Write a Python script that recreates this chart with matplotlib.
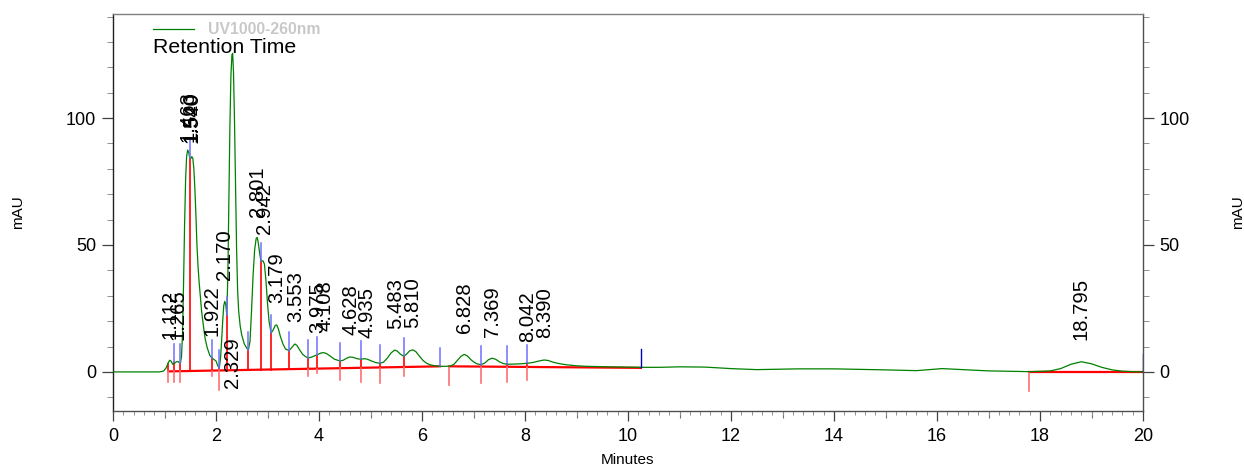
import numpy as np
import matplotlib
matplotlib.use("Agg")
import matplotlib.pyplot as plt
from matplotlib.ticker import MultipleLocator

plt.rcParams['font.family'] = ['Liberation Sans', 'DejaVu Sans']

# ---------- data ----------
# detector trace (UV 260 nm), minutes / mAU
t_trace = [0.00, 0.50, 0.90, 0.98, 1.03, 1.07, 1.10, 1.13, 1.16, 1.19, 1.23, 1.26, 1.29, 1.31,
           1.33, 1.35, 1.37, 1.39, 1.41, 1.43, 1.45, 1.47, 1.49, 1.51, 1.53, 1.55, 1.57, 1.59,
           1.61, 1.63, 1.65, 1.67, 1.69, 1.72, 1.75, 1.79, 1.83, 1.88, 1.92, 1.96, 2.00, 2.04,
           2.065, 2.09, 2.11, 2.13, 2.15, 2.17, 2.19, 2.21, 2.23, 2.25, 2.27, 2.29, 2.31, 2.324,
           2.34, 2.36, 2.38, 2.40, 2.42, 2.44, 2.47, 2.50, 2.55, 2.60, 2.63, 2.66, 2.69, 2.72,
           2.75, 2.78, 2.80, 2.82, 2.85, 2.874, 2.91, 2.94, 2.97, 3.00, 3.03, 3.07, 3.11, 3.15,
           3.18, 3.21, 3.25, 3.30, 3.35, 3.42, 3.47, 3.53, 3.57, 3.62, 3.68, 3.74, 3.79, 3.85,
           3.92, 3.97, 4.03, 4.08, 4.14, 4.22, 4.30, 4.41, 4.47, 4.53, 4.60, 4.67, 4.74, 4.81,
           4.88, 4.94, 5.02, 5.10, 5.18, 5.25, 5.33, 5.40, 5.47, 5.52, 5.58, 5.65, 5.70, 5.76,
           5.82, 5.88, 5.95, 6.02, 6.09, 6.16, 6.25, 6.35, 6.45, 6.55, 6.62, 6.69, 6.76, 6.82,
           6.88, 6.95, 7.02, 7.08, 7.15, 7.22, 7.29, 7.36, 7.43, 7.50, 7.58, 7.66, 7.80, 7.92,
           8.04, 8.15, 8.25, 8.37, 8.45, 8.55, 8.68, 8.81, 9.00, 9.20, 9.60, 10.00, 10.25, 10.60,
           11.00, 11.50, 12.00, 12.50, 13.00, 13.30, 14.00, 14.50, 15.00, 15.60, 15.90, 16.10,
           16.40, 17.00, 17.50, 17.80, 18.20, 18.40, 18.60, 18.80, 19.00, 19.20, 19.40, 19.60,
           19.80, 20.00]
v_trace = [0.0, 0.0, 0.0, 0.3, 1.5, 3.5, 4.6, 4.2, 3.0, 3.3, 4.0, 4.1, 3.6, 3.6,
           6.0, 15.0, 35.0, 58.0, 76.0, 85.0, 87.4, 86.5, 84.3, 84.0, 84.8, 84.2, 80.0, 72.0,
           62.0, 50.0, 42.0, 36.0, 31.0, 24.0, 19.0, 13.0, 9.5, 6.5, 5.5, 4.9, 4.3, 2.2,
           1.6, 6.0, 12.6, 20.0, 26.0, 27.8, 26.5, 22.4, 38.0, 68.0, 97.0, 117.0, 125.0, 125.5,
           118.0, 98.0, 72.0, 48.0, 32.0, 24.0, 18.0, 14.5, 11.0, 9.3, 8.7, 12.0, 24.0, 38.0,
           48.0, 52.6, 53.0, 51.0, 46.5, 43.5, 43.8, 42.5, 36.0, 27.0, 20.0, 15.3, 16.5, 18.3,
           18.5, 17.0, 14.0, 11.0, 9.0, 8.4, 9.6, 11.0, 10.5, 8.8, 7.0, 6.0, 5.5, 5.8,
           6.4, 6.8, 7.4, 7.6, 7.3, 6.2, 5.0, 4.3, 4.6, 5.3, 5.9, 5.7, 5.2, 5.0,
           5.2, 5.0, 4.3, 3.7, 3.4, 3.8, 5.5, 7.5, 8.6, 8.2, 7.0, 6.1, 7.0, 8.3,
           8.7, 8.0, 6.2, 4.5, 3.4, 2.8, 2.4, 2.2, 2.2, 2.3, 3.0, 4.6, 6.2, 6.9,
           6.3, 4.8, 3.7, 3.1, 2.9, 3.5, 4.8, 5.4, 5.0, 4.0, 3.3, 3.0, 3.1, 3.2,
           3.4, 3.7, 4.2, 4.7, 4.5, 3.8, 3.2, 2.8, 2.4, 2.2, 2.0, 1.9, 1.8, 1.8,
           2.0, 1.9, 1.3, 0.9, 1.1, 1.2, 1.2, 1.0, 0.8, 0.5, 1.0, 1.3,
           1.0, 0.4, 0.2, 0.1, 0.4, 1.3, 3.0, 4.0, 3.2, 1.8, 0.8, 0.3,
           0.1, 0.0]

# labelled peaks: retention time and apex height (mAU)
peak_rt = [1.112, 1.265, 1.463, 1.520, 1.540, 1.922, 2.170, 2.329, 2.801, 2.942, 3.179,
           3.553, 3.975, 4.108, 4.628, 4.935, 5.483, 5.810, 6.828, 7.369, 8.042, 8.390, 18.795]
peak_h = [4.6, 4.1, 87.4, 84.0, 84.8, 5.5, 27.8, 125.5, 53.0, 42.5, 18.5,
          11.0, 6.8, 7.6, 5.9, 5.0, 8.6, 8.7, 6.9, 5.4, 3.4, 4.7, 4.0]

# integration baselines (start/end time and level)
base_t = [(1.074, 6.35), (6.53, 10.25), (17.79, 20.0)]
base_v = [(0.2, 2.2), (2.2, 1.6), (0.0, 0.0)]

# drop lines: time, signal at the drop, signal level of the baseline, depth below it
drop_t = [1.074, 1.184, 1.30, 1.495, 1.916, 2.065, 2.207, 2.63, 2.874, 3.07, 3.42,
          3.79, 3.97, 4.41, 4.81, 5.18, 5.65, 6.53, 7.15, 7.66, 8.04, 17.79]
drop_v = [3.0, 3.9, 3.6, 84.1, 5.5, 1.6, 22.4, 8.7, 43.5, 15.3, 8.4,
          5.5, 6.7, 4.3, 5.0, 3.4, 6.1, 2.2, 2.9, 3.0, 3.4, 0.0]
drop_base = [0.2, 0.3, 0.3, 0.4, 0.5, 0.6, 0.6, 0.8, 0.9, 0.9, 1.0,
             1.2, 1.2, 1.4, 1.6, 1.7, 1.9, 2.2, 2.0, 2.0, 1.9, 0.0]
drop_below = [4.0, 4.3, 4.3, 0.0, 2.3, 7.6, 0.0, 0.0, 0.0, 0.0, 0.0,
              3.0, 1.7, 4.5, 5.4, 5.9, 3.5, 7.3, 6.5, 6.0, 4.9, 7.5]
# small blue peak-window marks above the trace
mark_t = [1.184, 1.30, 1.495, 1.916, 2.065, 2.207, 2.63, 2.874, 3.07, 3.42,
          3.79, 3.97, 4.41, 4.81, 5.18, 5.65, 6.35, 7.15, 7.66, 8.04]
mark_v = [3.9, 3.6, 84.1, 5.5, 1.6, 22.4, 8.7, 43.5, 15.3, 8.4,
          5.5, 6.7, 4.3, 5.0, 3.4, 6.1, 2.2, 2.9, 3.0, 3.4]
end_t = [10.25, 20.0]
end_v = [1.8, 0.0]

# ---------- figure ----------
W, H = 1244, 468
fig = plt.figure(figsize=(W / 100, H / 100), dpi=100)
ax = fig.add_axes([113 / W, 57 / H, 1030 / W, 397 / H])

green = '#008000'
ax.plot(t_trace, v_trace, color=green, lw=0.9, label='UV1000-260nm', zorder=3)

for (t0, t1), (v0, v1) in zip(base_t, base_v):
    ax.plot([t0, t1], [v0, v1], color='#ff0000', lw=1.6, zorder=2)

for t, v, b, d in zip(drop_t, drop_v, drop_base, drop_below):
    ax.plot([t, t], [b, v], color='#ff0000', lw=1.2, zorder=2)
    if d > 0:
        ax.plot([t, t], [b - d, b], color='#ff7070', lw=1.2, zorder=2)

blue_len = 7.2
for t, v in zip(mark_t, mark_v):
    ax.plot([t, t], [v, v + blue_len], color='#6f6fff', lw=1.1, zorder=4)
for t, v in zip(end_t, end_v):
    ax.plot([t, t], [v, v + blue_len], color='#0000c0', lw=1.0, zorder=4)

# retention time labels
offset = {1.463: 3.0, 1.520: 6.5, 1.540: 5.5, 2.801: 8.0, 2.942: 12.0}
for rt, h in zip(peak_rt, peak_h):
    if rt == 2.329:
        y = -6.5
    else:
        y = h + offset.get(rt, 8.5)
    ax.text(rt, y, f'{rt:.3f}', rotation=90, ha='center', va='bottom',
            fontsize=14.6, color='black', zorder=5)

ax.set_xlim(0, 20)
ax.set_ylim(-15.4, 141)

ax.xaxis.set_major_locator(MultipleLocator(2))
ax.xaxis.set_minor_locator(MultipleLocator(0.2))
ax.yaxis.set_major_locator(MultipleLocator(50))
ax.yaxis.set_minor_locator(MultipleLocator(10))

ax.tick_params(axis='x', which='major', direction='out', length=7, width=0.9,
               color='#404040', labelsize=13, pad=5)
ax.tick_params(axis='x', which='minor', direction='out', length=3, width=0.7, color='#909090')
ax.tick_params(axis='y', which='major', direction='out', length=8, width=0.9, color='#404040',
               labelsize=13, left=True, right=True, labelleft=True, labelright=True, pad=4)
ax.tick_params(axis='y', which='minor', direction='out', length=4, width=0.7, color='#909090',
               left=True, right=True)

# medium ticks on odd minutes
sec = ax.secondary_xaxis('bottom')
sec.set_xticks([1, 3, 5, 7, 9, 11, 13, 15, 17, 19])
sec.tick_params(length=5, width=0.8, color='#707070', labelbottom=False)
sec.spines['bottom'].set_visible(False)

ax.spines['left'].set_color('#202020')
ax.spines['bottom'].set_color('#505050')
ax.spines['right'].set_color('#505050')
ax.spines['top'].set_color('#808080')
for s in ax.spines.values():
    s.set_linewidth(1.0)

fig.text(18 / W, 1 - 212 / H, 'mAU', rotation=90, ha='center', va='center', fontsize=11)
fig.text(1238 / W, 1 - 212 / H, 'mAU', rotation=90, ha='center', va='center', fontsize=11)
fig.text(628 / W, 1 - 460 / H, 'Minutes', ha='center', va='center', fontsize=11)

ax.legend(loc='upper left', bbox_to_anchor=(153 / W, 1 - 22 / H), bbox_transform=fig.transFigure,
          frameon=False, borderpad=0, borderaxespad=0, handlelength=2.6, handletextpad=0.9,
          prop={'weight': 'bold', 'size': 11.3}, labelcolor='#c8c8c8')
fig.text(153 / W, 1 - 47.5 / H, 'Retention Time', ha='left', va='center', fontsize=15.3)

fig.savefig('out.png', dpi=100)
